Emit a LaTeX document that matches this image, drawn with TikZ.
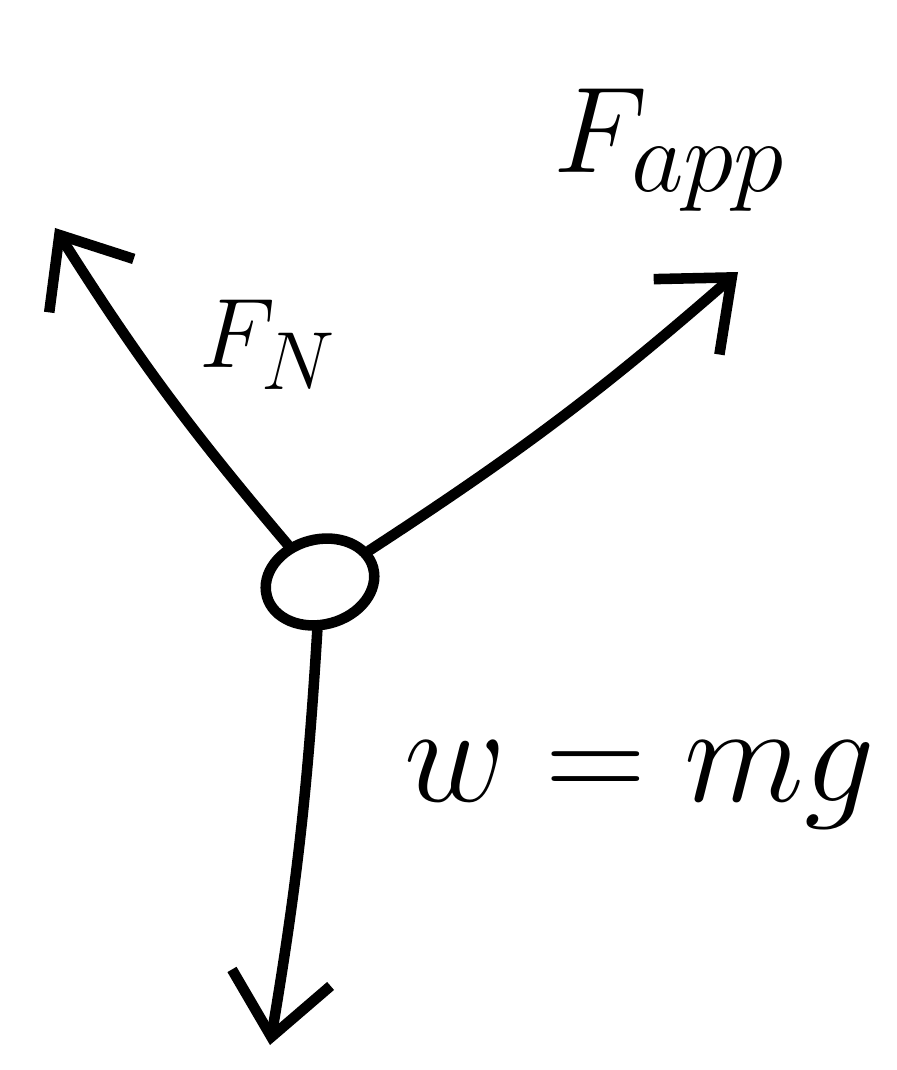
\documentclass[tikz,border=0pt]{standalone}
\usepackage{tikz}
\usepackage{amsmath}
\usetikzlibrary{arrows.meta,positioning,shapes.geometric,calc}

\begin{document}
\begin{tikzpicture}[
    % hand-drawn look
    body/.style={ellipse, draw=black, line width=3pt, minimum width=11mm, minimum height=8.5mm, rotate=15, inner sep=0pt},
    force/.style={line width=3pt, line cap=round, line join=round, -{Straight Barb[length=6mm,width=10mm,line width=3pt]}},
    lbl/.style={font=\Huge, transform shape}
]
\useasboundingbox (0,0) rectangle (8.97,10.70);

% Body
\node[body] (obj) at (3.20,4.88) {};

% Arrow tips
\coordinate (tipN) at (0.55,8.42);
\coordinate (tipApp) at (7.38,7.98);
\coordinate (tipW) at (2.70,0.25);

% Forces
\draw[force] (obj) to[bend left=4] (tipN);
\draw[force] (obj) to[bend right=4] (tipApp);
\draw[force] (obj) to[bend left=3] (tipW);

% Labels
\node[lbl, scale=1.4] (lblApp) at (6.70,9.20) {$F_{app}$};
\node[lbl, scale=1.13] (lblN) at (2.68,7.25) {$F_N$};
\node[lbl, scale=1.6] (lblW) at (6.40,2.85) {$w = mg$};

\end{tikzpicture}
\end{document}
